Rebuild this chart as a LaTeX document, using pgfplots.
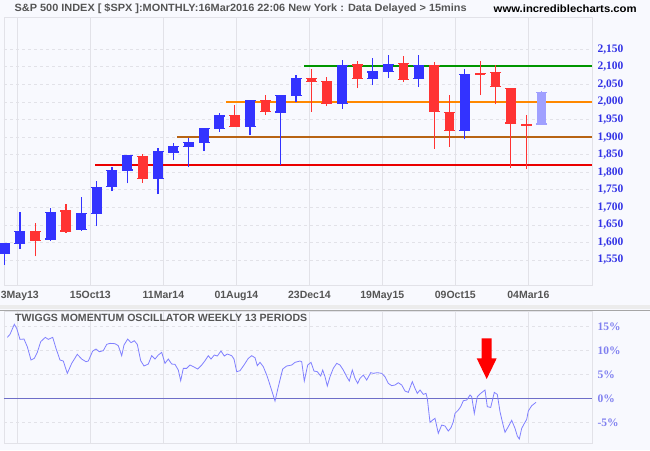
\documentclass[border=0pt]{standalone}
\usepackage{pgfplots}
\usepackage{pgfplotstable}
\pgfplotsset{compat=1.18}
\usepackage{graphicx}
\usepackage{fontspec}
\setmainfont{Liberation Sans}
\newfontfamily\serif{Liberation Serif}

\definecolor{bg}{RGB}{248,249,254}
\definecolor{upc}{RGB}{51,51,255}
\definecolor{dnc}{RGB}{255,51,51}
\definecolor{curc}{RGB}{160,160,255}
\definecolor{gridc}{RGB}{226,226,232}
\definecolor{txtc}{RGB}{85,85,85}
\definecolor{lblc}{RGB}{51,51,230}
\definecolor{lbltwo}{RGB}{128,128,240}
\definecolor{oscc}{RGB}{128,128,255}
\definecolor{zeroc}{RGB}{110,110,200}
\definecolor{sepc}{RGB}{236,236,236}
\definecolor{supline}{RGB}{235,0,0}

% monthly candles: index, low, body low, body high, high
\pgfplotstableread{
i L bL bH H
0 1536.0 1569.2 1597.6 1597.6
1 1581.3 1597.6 1631.0 1687.2
3 1604.6 1609.8 1685.7 1698.8
5 1633.4 1635.9 1681.6 1729.9
6 1646.5 1682.4 1756.5 1775.2
7 1746.2 1758.7 1805.8 1813.6
8 1768.0 1806.6 1848.4 1849.4
10 1737.9 1782.7 1859.5 1867.9
11 1834.4 1857.7 1872.3 1884.0
12 1814.4 1874.0 1884.0 1897.3
13 1859.8 1884.4 1923.6 1924.0
14 1916.0 1923.9 1960.2 1968.2
16 1904.8 1929.8 2003.4 2005.0
18 1820.7 1971.4 2018.1 2018.2
19 2001.0 2018.2 2067.6 2075.8
22 1980.9 1996.7 2104.5 2119.6
24 2048.4 2067.6 2085.5 2125.9
25 2067.9 2087.4 2107.4 2134.7
27 2044.0 2067.0 2103.8 2132.8
30 1893.7 1919.7 2079.4 2094.3
}\upT
\pgfplotstableread{
i L bL bH H
2 1560.3 1606.3 1631.7 1654.2
4 1627.5 1633.0 1689.4 1709.7
9 1770.5 1782.6 1845.9 1850.8
15 1930.7 1930.7 1962.3 1991.4
17 1964.0 1972.3 2004.1 2019.3
20 1972.6 2058.9 2065.8 2093.6
21 1988.1 1995.0 2058.9 2072.4
23 2039.7 2067.9 2105.2 2117.5
26 2056.3 2063.1 2108.6 2129.9
28 1867.0 1972.2 2104.5 2112.7
29 1871.9 1920.0 1970.1 2020.9
31 2019.4 2080.4 2080.8 2116.5
32 1993.3 2043.9 2082.9 2104.3
33 1812.3 1940.2 2038.2 2038.2
34 1810.1 1932.2 1936.9 1962.96
}\dnT
\pgfplotstableread{
i L bL bH H
35 1937.1 1937.1 2027.2 2032.0
}\curT

\newcommand\candles[2]{%
 \addplot[draw=none, mark=none, forget plot,
   error bars/.cd, y dir=plus, y explicit, error mark=none,
   error bar style={draw=#2, line width=1.2pt}]
   table[x=i, y=L, y error expr=\thisrow{H}-\thisrow{L}] {#1};
 \addplot[draw=none, mark=none, forget plot,
   error bars/.cd, y dir=plus, y explicit, error mark=none,
   error bar style={draw=#2, line width=9.8pt}]
   table[x=i, y=bL, y error expr=\thisrow{bH}-\thisrow{bL}] {#1};
 \addplot[#2, only marks, mark=-, mark size=5.5pt, line width=1.2pt, forget plot]
   table[x=i, y=bL] {#1};
 \addplot[#2, only marks, mark=-, mark size=5.5pt, line width=1.2pt, forget plot]
   table[x=i, y=bH] {#1};
}

\begin{document}
\begin{tikzpicture}
\path[use as bounding box] (0,0) rectangle (650pt,450pt);
\fill[bg] (0,0) rectangle (650pt,450pt);
\fill[sepc] (0,141pt) rectangle (650pt,145.5pt);
\draw[gray!70, line width=0.8pt] (0,139.5pt) -- (650pt,139.5pt);

\node[anchor=west, text=txtc, font=\bfseries\fontsize{10.5}{12}\selectfont, inner sep=0pt]
  at (14.5pt,441.5pt) {\resizebox{452pt}{\height}{S\&P 500 INDEX [ \$SPX ]:MONTHLY:16Mar2016 22:06 New York : Data Delayed > 15mins}};
\node[anchor=west, text=black, font=\bfseries\fontsize{10.5}{12}\selectfont, inner sep=0pt]
  at (493.5pt,441.5pt) {\resizebox{143pt}{\height}{www.incrediblecharts.com}};

\begin{axis}[at={(4pt,165pt)}, anchor=south west, scale only axis,
  width=588pt, height=268pt,
  xmin=-0.04, xmax=38.29, ymin=1479, ymax=2242, clip=false,
  axis background/.style={fill=bg}, axis line style={gridc},
  xtick={0.83,5.59,10.35,15.11,19.87,24.62,29.38,34.14},
  xticklabels={\hspace{5pt}3May13,15Oct13,11Mar14,01Aug14,23Dec14,19May15,09Oct15,04Mar16},
  xticklabel style={font=\bfseries\fontsize{10.5}{12}\selectfont, text=txtc, yshift=-3pt},
  ytick={1550,1600,...,2150}, yticklabel pos=right,
  yticklabel style={font=\serif\bfseries\fontsize{11.5}{12}\selectfont, text=lblc, anchor=west, xshift=2pt},
  /pgf/number format/1000 sep={,},
  /pgf/number format/assume math mode=true,
  major tick length=0, grid=major,
  x grid style={gridc, line width=1pt},
  y grid style={gridc, dashed, line width=0.8pt},
]
\addplot[draw={rgb,255:red,184;green,100;blue,20}, line width=1.4pt] coordinates {(11.24,1900) (38.29,1900)};
\addplot[draw={rgb,255:red,255;green,136;blue,0}, line width=1.4pt] coordinates {(14.43,2000) (38.29,2000)};
\addplot[draw={rgb,255:red,0;green,150;blue,0}, line width=1.4pt] coordinates {(19.52,2103) (38.29,2103)};
\addplot[color=supline, draw=supline, line width=1.5pt] coordinates {(5.9,1820) (38.29,1820)};
\candles{\upT}{upc}
\candles{\dnT}{dnc}
\candles{\curT}{curc}
\end{axis}

\begin{axis}[at={(4pt,7pt)}, anchor=south west, scale only axis,
  width=588pt, height=132pt,
  xmin=4, xmax=592, ymin=-9.23, ymax=18.27,
  axis background/.style={fill=bg}, axis line style={gridc},
  xtick={17.3,90.3,163.3,236.3,309.3,382.3,455.3,528.3},
  xticklabels={,,,,,,,},
  ytick={-5,0,5,10,15}, yticklabels={-5\%,0\%,5\%,10\%,15\%},
  yticklabel pos=right,
  yticklabel style={font=\serif\bfseries\fontsize{11.5}{12}\selectfont, text=lbltwo, anchor=west, xshift=2pt},
  major tick length=0, grid=major,
  x grid style={gridc, line width=1pt},
  y grid style={gridc, dashed, line width=0.8pt},
]
\addplot[zeroc, line width=1.3pt] coordinates {(4,0) (592,0)};
\addplot[oscc, line width=0.8pt] table {
x y
7.3 12.78
10.0 13.40
14.3 15.49
16.7 14.65
20.0 12.36
24.0 12.43
27.3 10.83
31.0 8.06
34.3 8.40
37.3 9.65
40.7 11.88
45.3 12.78
48.3 12.36
52.7 12.78
56.0 10.49
60.0 8.06
63.3 7.85
67.3 5.28
71.7 7.36
77.3 9.24
81.7 8.26
86.0 7.71
88.3 7.85
92.7 9.93
96.0 10.35
99.3 9.79
103.3 10.00
106.7 11.32
110.0 11.53
115.0 11.46
118.3 11.04
121.7 8.96
124.0 11.18
127.7 12.43
131.0 11.67
134.3 12.08
137.3 11.32
140.7 7.92
144.0 6.81
148.3 7.22
151.7 8.96
155.0 8.26
158.3 9.10
161.7 9.65
165.0 7.36
168.3 8.26
171.7 7.22
175.0 7.15
178.3 5.97
180.7 3.75
183.3 6.32
186.7 6.32
190.0 7.01
194.0 6.60
197.7 6.18
201.7 7.01
205.0 7.92
208.3 8.96
211.0 8.26
214.3 9.10
217.3 8.89
221.0 9.93
224.3 8.89
227.3 9.31
231.7 8.96
234.0 8.26
236.7 5.63
240.0 5.83
244.0 7.01
248.3 8.40
251.7 8.96
255.0 8.54
257.3 6.88
260.0 7.57
263.3 6.67
266.7 4.93
270.0 2.85
275.0 -0.49
278.3 2.50
282.7 6.18
286.7 6.81
291.7 7.01
295.0 7.57
300.0 7.85
301.7 7.71
304.3 3.68
307.7 7.01
311.0 7.57
314.0 5.76
317.3 5.63
320.7 4.72
322.7 5.97
325.0 4.58
327.3 2.64
330.0 4.58
333.3 6.32
336.7 7.36
340.0 7.01
343.3 5.97
346.7 4.58
349.3 3.68
352.3 5.97
355.0 4.24
357.7 3.19
360.0 4.24
363.3 4.93
366.7 3.89
370.7 5.42
373.3 5.28
377.3 5.42
381.7 5.28
385.0 4.58
388.3 3.19
391.7 2.71
395.0 2.85
398.3 3.33
401.7 2.85
405.0 1.60
408.3 1.32
412.3 3.54
415.0 2.15
417.3 1.11
420.0 1.81
423.3 0.90
426.0 1.11
427.3 0.07
430.0 -4.93
432.7 -4.44
435.0 -4.10
438.3 -7.22
441.7 -5.49
445.0 -5.69
448.3 -6.74
451.0 -6.04
453.3 -4.79
455.0 -3.06
458.3 -2.36
460.7 -1.67
463.3 -0.42
466.7 -0.28
470.0 0.76
471.7 0.42
474.3 -3.06
477.3 0.42
480.7 1.11
485.0 1.81
487.3 -1.67
490.7 -1.81
492.7 -0.07
494.3 1.32
497.3 0.90
500.0 -2.71
502.7 -5.14
505.0 -7.01
508.3 -5.83
511.7 -4.51
515.0 -6.18
517.3 -7.78
519.3 -8.40
521.7 -6.18
524.0 -5.28
526.7 -4.31
528.3 -2.57
531.7 -1.46
536.0 -0.76
};
\fill[red] (axis cs:481.7,12.58) -- (axis cs:491.7,12.58) -- (axis cs:491.7,8.42)
  -- (axis cs:496.7,8.42) -- (axis cs:486.7,4.1) -- (axis cs:476.7,8.42)
  -- (axis cs:481.7,8.42) -- cycle;
\end{axis}

\node[anchor=west, text=txtc, font=\bfseries\fontsize{10.5}{12}\selectfont, inner sep=0pt]
  at (15pt,131.7pt) {\resizebox{292pt}{\height}{TWIGGS MOMENTUM OSCILLATOR WEEKLY 13 PERIODS}};
\end{tikzpicture}
\end{document}
